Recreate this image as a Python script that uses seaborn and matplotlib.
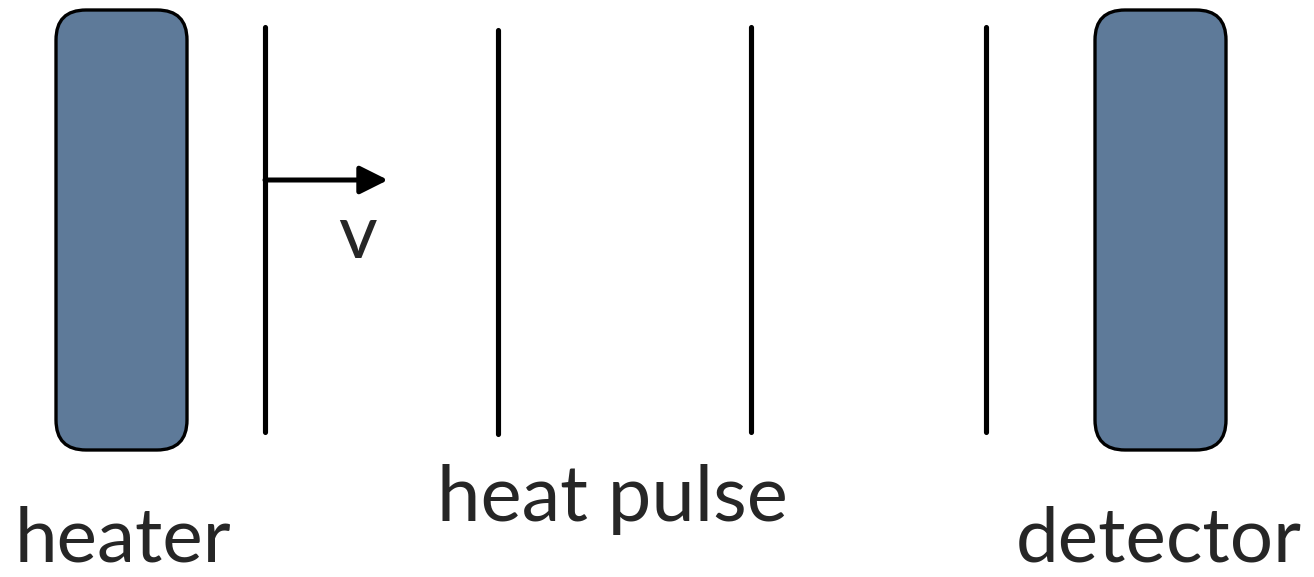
import pandas as pd
import matplotlib.pyplot as plt
import seaborn as sns
from matplotlib.patches import FancyBboxPatch

# positions of the successive heat pulse fronts (pixel units of the diagram)
pulse_x = [265, 498, 751, 986]
pulse_top = [27, 30, 27, 27]
pulse_bottom = [432, 434, 432, 432]

# heater and detector blocks: left edge, width
block_names = ["heater", "detector"]
block_left = [56, 1095]
block_width = 131
block_top, block_bottom = 10, 450

sns.set_style("white")
plt.rcParams['font.family'] = ['Lato', 'DejaVu Sans']

fig = plt.figure(figsize=(13.14, 5.77), dpi=100)
ax = fig.add_axes([0, 0, 1, 1])

# vertical fronts drawn as one line per unit
rows = []
for i, (x, t, b) in enumerate(zip(pulse_x, pulse_top, pulse_bottom)):
    rows.append({"front": i, "x": x, "y": t})
    rows.append({"front": i, "x": x, "y": b})
fronts = pd.DataFrame(rows)
sns.lineplot(data=fronts, x="x", y="y", units="front", estimator=None,
             color="black", linewidth=3.7, sort=False, ax=ax)

for left in block_left:
    box = FancyBboxPatch((left, block_top), block_width, block_bottom - block_top,
                         boxstyle="round,pad=0,rounding_size=30",
                         facecolor="#5e7a99", edgecolor="black", linewidth=2.4)
    ax.add_patch(box)

# velocity arrow
ax.annotate("", xy=(388, 180), xytext=(pulse_x[0], 180),
            arrowprops=dict(arrowstyle="-|>,head_length=1.7,head_width=0.85",
                            color="black", lw=3.6, shrinkA=0, shrinkB=0))
ax.text(358, 258, "v", fontsize=54, ha="center", va="baseline")

ax.text(612, 521, "heat pulse", fontsize=56, ha="center", va="baseline")
ax.text(123, 562, "heater", fontsize=55, ha="center", va="baseline")
ax.text(1159, 562, "detector", fontsize=55, ha="center", va="baseline")

ax.set_xlim(0, 1314)
ax.set_ylim(577, 0)
ax.axis("off")
fig.savefig("out.png", dpi=100)
